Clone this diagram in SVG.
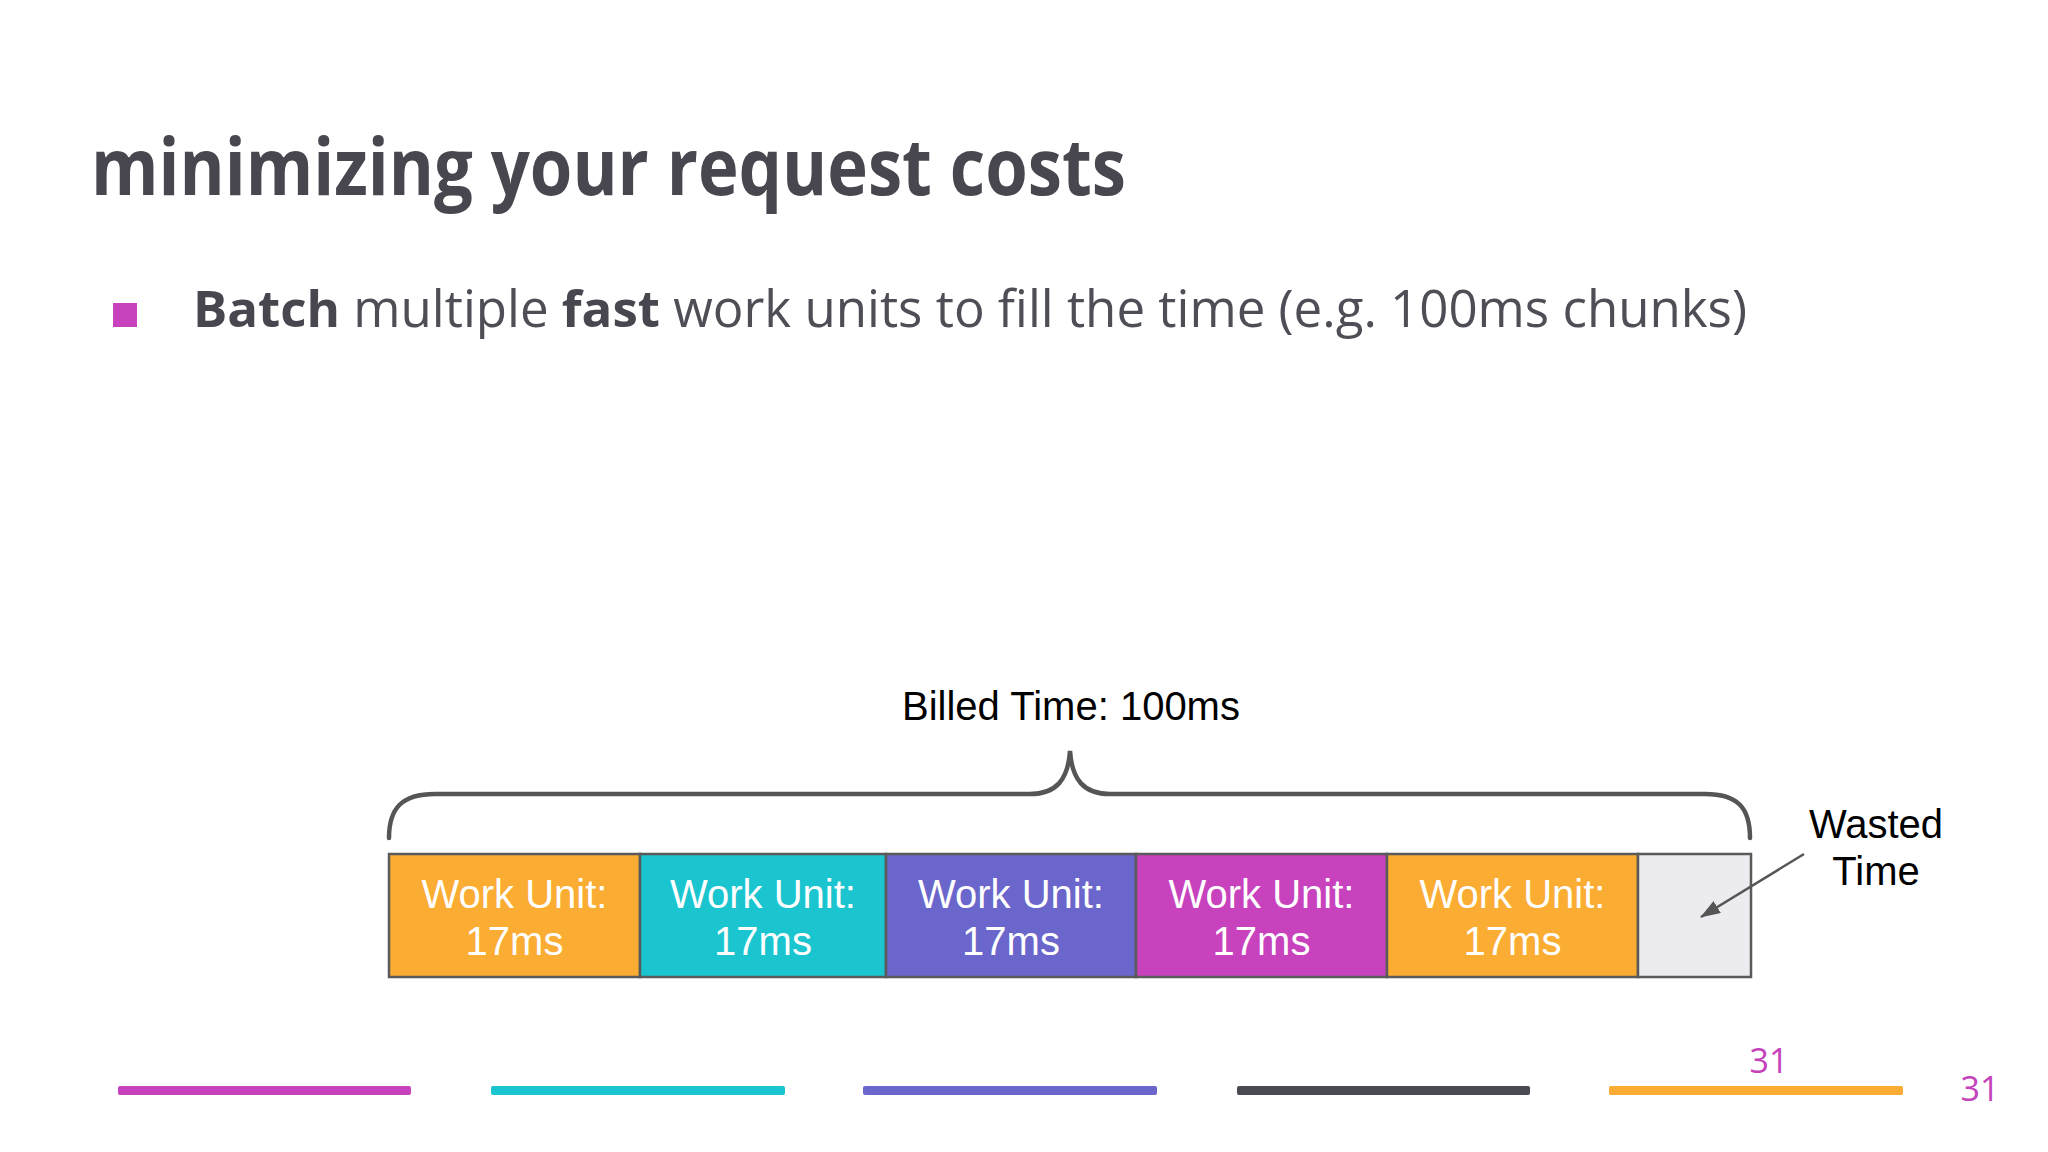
<svg xmlns="http://www.w3.org/2000/svg" width="2048" height="1152" viewBox="0 0 2048 1152">
<defs>
<style>
.title{font-family:"Open Sans","Noto Sans",sans-serif;font-weight:700;fill:#48474f;}
.body{font-family:"Open Sans","Noto Sans",sans-serif;fill:#4f4e56;}
.b{font-weight:700;fill:#48474f;}
.lbl{font-family:"Liberation Sans",Arial,sans-serif;font-size:40px;fill:#000;text-anchor:middle;}
.wu{font-family:"Liberation Sans",Arial,sans-serif;font-size:40px;fill:#fff;text-anchor:middle;}
.box{stroke:#5a5a5a;stroke-width:2.5;}
.pg{font-family:"Open Sans","Noto Sans",sans-serif;font-size:34px;fill:#c443bb;text-anchor:middle;}
</style>
<marker id="arrow" viewBox="0 0 20 14" refX="19" refY="7" markerWidth="20" markerHeight="14" orient="auto" markerUnits="userSpaceOnUse">
<path d="M0,0 L20,7 L0,14 z" fill="#555"/>
</marker>
</defs>
<rect width="2048" height="1152" fill="#ffffff"/>

<g id="title">
<text class="title" x="91" y="195" font-size="78" textLength="1035" lengthAdjust="spacingAndGlyphs">minimizing your request costs</text>
</g>

<g id="bullet">
<rect x="113" y="303" width="24" height="24" fill="#c842be"/>
<text class="body" x="193" y="327" font-size="51" textLength="1554" lengthAdjust="spacingAndGlyphs"><tspan class="b">Batch</tspan> multiple <tspan class="b">fast</tspan> work units to fill the time (e.g. 100ms chunks)</text>
</g>

<g id="billed-label">
<text class="lbl" x="1071" y="720">Billed Time: 100ms</text>
</g>

<g id="unit1">
<rect class="box" x="389" y="854" width="251" height="123" fill="#fbac33"/>
<text class="wu" x="514.5" y="908">Work Unit:</text>
<text class="wu" x="514.5" y="955">17ms</text>
</g>
<g id="unit2">
<rect class="box" x="640" y="854" width="246" height="123" fill="#1bc5cf"/>
<text class="wu" x="763" y="908">Work Unit:</text>
<text class="wu" x="763" y="955">17ms</text>
</g>
<g id="unit3">
<rect class="box" x="886" y="854" width="250" height="123" fill="#6a66cb"/>
<text class="wu" x="1011" y="908">Work Unit:</text>
<text class="wu" x="1011" y="955">17ms</text>
</g>
<g id="unit4">
<rect class="box" x="1136" y="854" width="251" height="123" fill="#c842be"/>
<text class="wu" x="1261.5" y="908">Work Unit:</text>
<text class="wu" x="1261.5" y="955">17ms</text>
</g>
<g id="unit5">
<rect class="box" x="1387" y="854" width="251" height="123" fill="#fbac33"/>
<text class="wu" x="1512.5" y="908">Work Unit:</text>
<text class="wu" x="1512.5" y="955">17ms</text>
</g>
<g id="wasted">
<rect class="box" x="1638" y="854" width="113" height="123" fill="#ecebef"/>
</g>

<g id="wasted-label">
<text class="lbl" x="1876" y="838" font-size="39">Wasted</text>
<text class="lbl" x="1876" y="885" font-size="39">Time</text>
</g>

<g id="connectors">
<path id="brace" d="M389,838 C389,808 402,794 435,794 L1030,794 C1056,794 1068,780 1070,751 C1072,780 1084,794 1110,794 L1705,794 C1738,794 1750,808 1750,838" fill="none" stroke="#555" stroke-width="4.5" stroke-linecap="round"/>
<line id="wasted-arrow" x1="1804" y1="854" x2="1701" y2="917" stroke="#555" stroke-width="2.5" marker-end="url(#arrow)"/>
</g>

<g id="footer">
<rect x="118" y="1086" width="293" height="9" rx="2" fill="#c842be"/>
<rect x="491" y="1086" width="294" height="9" rx="2" fill="#1bc5cf"/>
<rect x="863" y="1086" width="294" height="9" rx="2" fill="#6a66cb"/>
<rect x="1237" y="1086" width="293" height="9" rx="2" fill="#4a4a52"/>
<rect x="1609" y="1086" width="294" height="9" rx="2" fill="#fbac33"/>
<text class="pg" x="1769" y="1073">31</text>
<text class="pg" x="1980" y="1101">31</text>
</g>
</svg>
